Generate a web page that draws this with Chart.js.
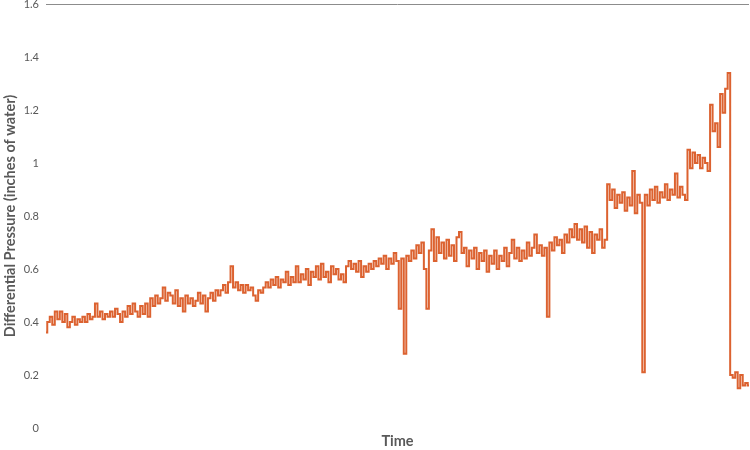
<!DOCTYPE html>
<html>
<head>
<meta charset="utf-8">
<title>Differential Pressure</title>
<script src="https://cdn.jsdelivr.net/npm/chart.js@4/dist/chart.umd.min.js"></script>
<style>
  html, body { margin: 0; padding: 0; background: #ffffff; }
  #chart { display: block; }
</style>
</head>
<body>
<canvas id="chart" width="750" height="450"></canvas>
<script>
  // differential pressure readings, inches of water, in sample order
  const pressure = [
    0.36, 0.40, 0.42, 0.39, 0.44, 0.41, 0.44, 0.40, 0.43, 0.38,
    0.40, 0.42, 0.39, 0.41, 0.40, 0.42, 0.40, 0.43, 0.41, 0.42,
    0.47, 0.42, 0.44, 0.41, 0.43, 0.42, 0.44, 0.42, 0.45, 0.43,
    0.40, 0.44, 0.42, 0.46, 0.43, 0.47, 0.44, 0.42, 0.46, 0.43,
    0.47, 0.42, 0.49, 0.46, 0.50, 0.47, 0.49, 0.53, 0.48, 0.51,
    0.50, 0.47, 0.52, 0.46, 0.49, 0.44, 0.50, 0.47, 0.49, 0.46,
    0.48, 0.51, 0.47, 0.50, 0.44, 0.49, 0.51, 0.48, 0.52, 0.50,
    0.52, 0.54, 0.51, 0.55, 0.61, 0.53, 0.55, 0.52, 0.54, 0.51,
    0.54, 0.52, 0.53, 0.50, 0.48, 0.52, 0.51, 0.53, 0.55, 0.53,
    0.56, 0.54, 0.57, 0.53, 0.56, 0.55, 0.59, 0.54, 0.57, 0.55,
    0.61, 0.55, 0.58, 0.56, 0.60, 0.54, 0.59, 0.57, 0.61, 0.56,
    0.62, 0.57, 0.59, 0.55, 0.61, 0.58, 0.60, 0.56, 0.58, 0.55,
    0.61, 0.63, 0.60, 0.62, 0.59, 0.63, 0.57, 0.61, 0.59, 0.62,
    0.60, 0.63, 0.61, 0.64, 0.62, 0.65, 0.60, 0.64, 0.62, 0.66,
    0.63, 0.45, 0.64, 0.28, 0.65, 0.63, 0.67, 0.64, 0.69, 0.66,
    0.70, 0.60, 0.45, 0.67, 0.75, 0.63, 0.72, 0.66, 0.70, 0.64,
    0.71, 0.65, 0.69, 0.63, 0.72, 0.74, 0.66, 0.68, 0.61, 0.67,
    0.64, 0.68, 0.60, 0.66, 0.63, 0.67, 0.59, 0.65, 0.62, 0.67,
    0.60, 0.65, 0.63, 0.68, 0.61, 0.66, 0.71, 0.64, 0.68, 0.63,
    0.67, 0.64, 0.70, 0.65, 0.68, 0.73, 0.66, 0.69, 0.65, 0.68,
    0.42, 0.70, 0.67, 0.72, 0.69, 0.71, 0.66, 0.73, 0.70, 0.75,
    0.72, 0.77, 0.71, 0.75, 0.70, 0.76, 0.68, 0.74, 0.66, 0.73,
    0.71, 0.75, 0.68, 0.71, 0.92, 0.86, 0.90, 0.83, 0.88, 0.85,
    0.89, 0.82, 0.87, 0.84, 0.97, 0.81, 0.88, 0.85, 0.21, 0.88,
    0.84, 0.90, 0.86, 0.91, 0.85, 0.89, 0.87, 0.92, 0.86, 0.90,
    0.88, 0.96, 0.87, 0.91, 0.88, 0.86, 1.05, 0.98, 1.04, 1.00,
    1.03, 0.98, 1.02, 1.00, 0.97, 1.22, 1.12, 1.15, 1.06, 1.26,
    1.19, 1.28, 1.34, 0.20, 0.19, 0.21, 0.15, 0.20, 0.16, 0.17, 0.16
  ];
  const samples = pressure.map((_, i) => i + 1);
  const yTickLabels = ["0", "0.2", "0.4", "0.6", "0.8", "1", "1.2", "1.4", "1.6"];

  const LINE = "#dc6230";
  const TEXT = "#595959";
  const FONT = "Lato, 'Open Sans', sans-serif";

  new Chart(document.getElementById("chart"), {
    type: "line",
    data: {
      labels: samples,
      datasets: [{
        data: pressure,
        borderColor: LINE,
        borderWidth: 2,
        pointRadius: 0,
        stepped: "middle",
        fill: false
      }]
    },
    options: {
      responsive: false,
      animation: false,
      layout: { padding: { top: 4, left: 2, right: 1, bottom: 0 } },
      plugins: { legend: { display: false }, tooltip: { enabled: false } },
      scales: {
        x: {
          offset: false,
          ticks: { display: false },
          grid: { display: false },
          border: { display: false },
          title: {
            display: true,
            text: "Time",
            color: TEXT,
            font: { family: FONT, size: 14.5, weight: "bold" },
            padding: { top: 0, bottom: 0 }
          },
          afterFit(scale) { scale.height = 22; }
        },
        y: {
          min: 0,
          max: 1.6,
          ticks: {
            stepSize: 0.2,
            padding: 7,
            color: TEXT,
            font: { family: FONT, size: 11 },
            callback: (v, i) => yTickLabels[i]
          },
          grid: {
            drawTicks: false,
            color: (ctx) => (ctx.index === yTickLabels.length - 1 ? "#8c8c8c" : "rgba(0,0,0,0)")
          },
          border: { display: false },
          title: {
            display: true,
            text: "Differential Pressure (inches of water)",
            color: TEXT,
            font: { family: FONT, size: 14.5, weight: "bold" },
            padding: { top: 0, bottom: 0 }
          },
          afterFit(scale) {
            scale.width = 44;
            scale.paddingTop = 0;
            scale.paddingBottom = 0;
          }
        }
      }
    }
  });
</script>
</body>
</html>
